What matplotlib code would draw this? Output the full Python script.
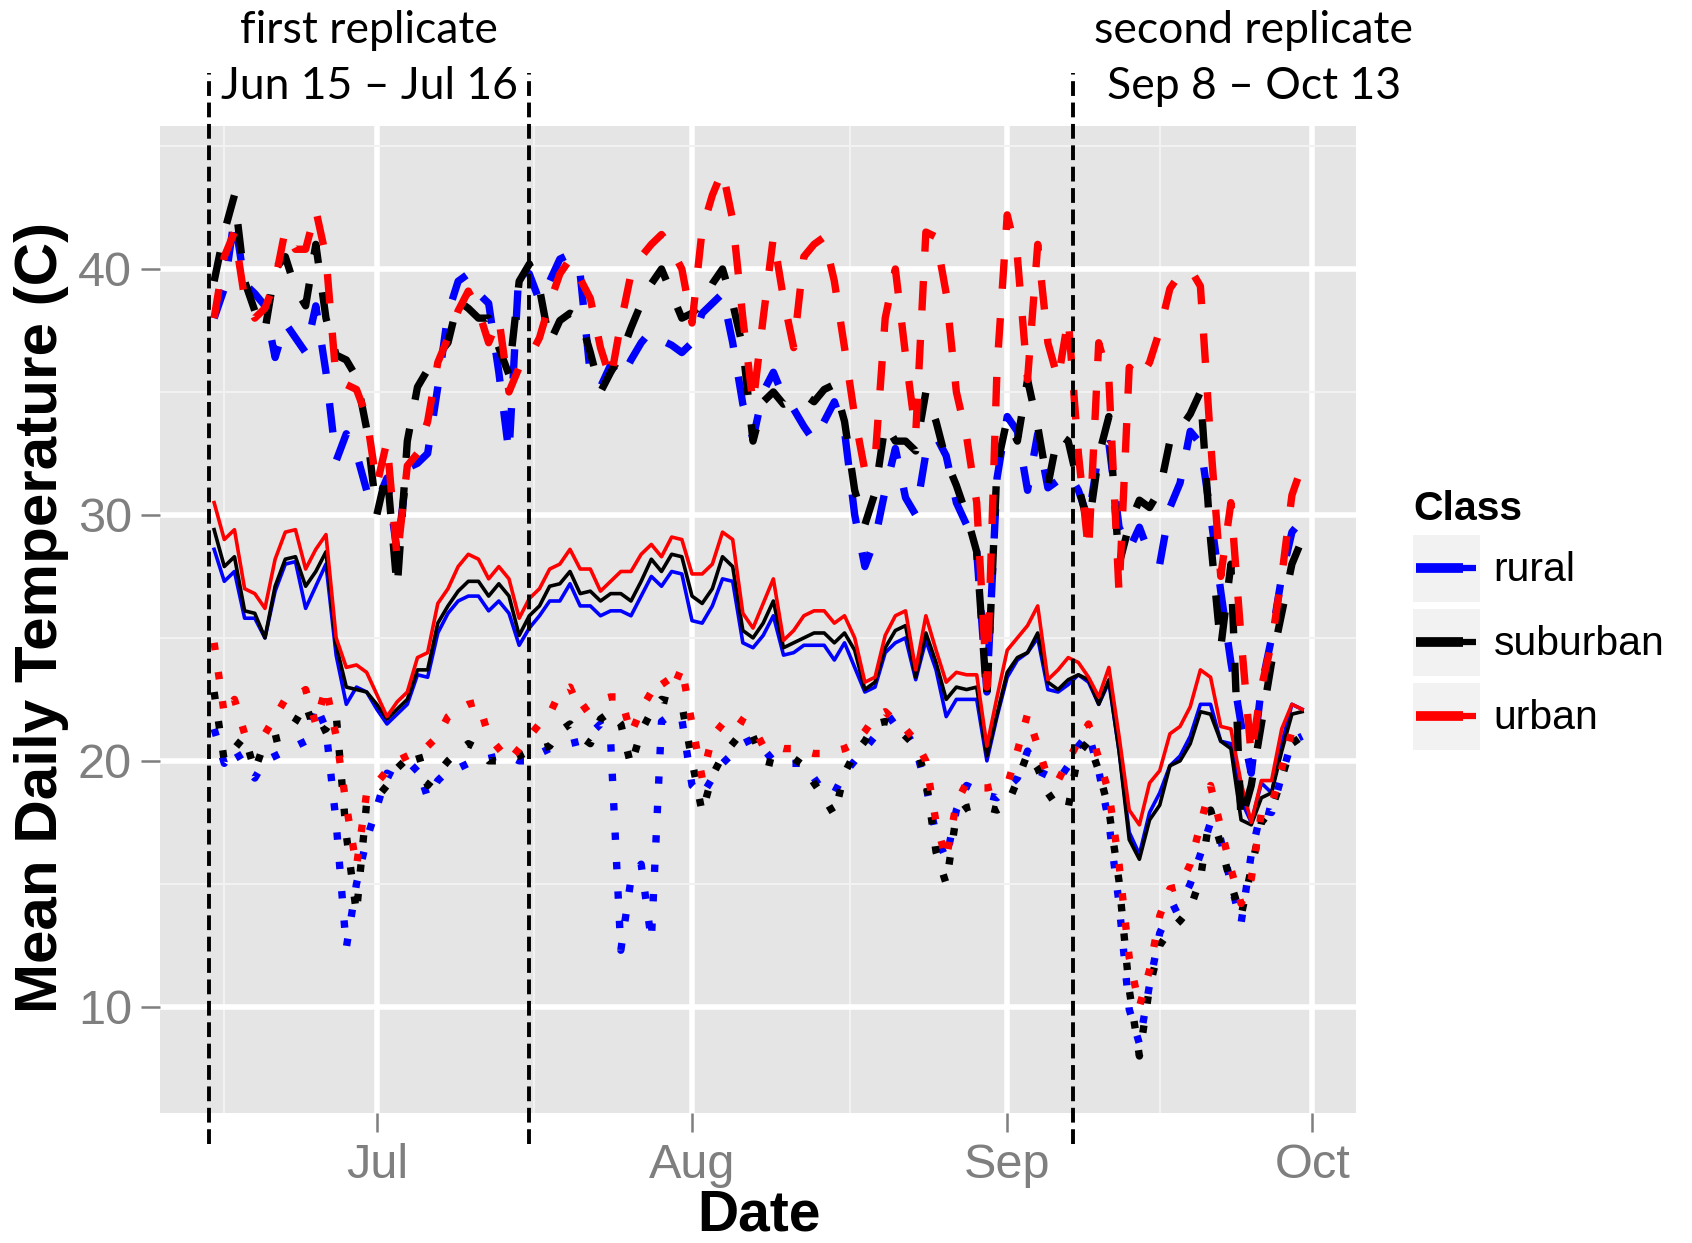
import matplotlib

matplotlib.use("Agg")
import matplotlib.dates as mdates
import matplotlib.pyplot as plt
import pandas as pd
from matplotlib.legend_handler import HandlerBase
from matplotlib.lines import Line2D
from matplotlib.patches import Rectangle
from matplotlib.ticker import FixedLocator
from matplotlib.transforms import blended_transform_factory

plt.rcParams.update(
    {
        "font.family": ["Liberation Sans", "DejaVu Sans"],
        "figure.facecolor": "white",
        "savefig.facecolor": "white",
    }
)

DATES = pd.date_range("2013-06-15", "2013-09-30", freq="D")

CLASSES = ["rural", "suburban", "urban"]
CLASS_COLORS = ["#0000FF", "#000000", "#FF0000"]

# daily maximum (dashed)
RURAL_MAX = [
    38.0, 39.2, 42.1, 39.4, 39.0, 38.5, 36.4, 37.8, 37.2, 36.6,
    38.5, 35.8, 32.2, 33.3, 32.5, 31.0, 30.5, 31.5, 28.5, 31.9,
    32.1, 32.5, 35.2, 38.2, 39.5, 39.8, 39.0, 38.6, 35.8, 32.5,
    40.1, 39.8, 38.7, 39.5, 40.4, 40.6, 39.8, 35.7, 35.2, 36.1,
    35.5, 36.3, 37.0, 37.5, 37.1, 36.9, 36.6, 37.0, 38.2, 38.6,
    39.0, 37.0, 34.5, 33.1, 35.0, 35.8, 34.8, 34.3, 33.6, 33.0,
    33.8, 34.6, 33.4, 30.0, 27.9, 29.0, 31.0, 32.7, 30.7, 30.0,
    32.5, 33.2, 32.4, 30.5, 29.6, 28.5, 22.8, 31.5, 34.0, 33.4,
    31.0, 33.3, 31.1, 31.4, 31.7, 31.0, 29.8, 32.6, 32.9, 29.5,
    28.6, 29.5, 28.4, 28.0, 30.3, 31.3, 33.4, 32.9, 30.0, 26.9,
    24.0, 21.5, 19.5, 23.0, 25.0, 27.5, 29.3, 29.8,
]
SUBURBAN_MAX = [
    39.5, 41.5, 43.0, 39.5, 38.3, 37.5, 40.0, 40.5, 39.2, 38.5,
    41.0, 38.0, 36.5, 36.3, 35.6, 33.5, 30.0, 31.8, 27.0, 33.0,
    35.2, 35.9, 36.5, 37.0, 38.7, 38.4, 38.0, 38.0, 36.8, 35.7,
    39.5, 40.2, 39.2, 37.0, 37.9, 38.2, 38.0, 36.6, 35.0, 35.8,
    36.5, 37.6, 38.6, 39.4, 40.0, 39.0, 38.0, 38.2, 38.6, 39.4,
    40.0, 38.6, 36.8, 33.0, 34.6, 35.0, 34.5, 34.7, 34.9, 34.6,
    35.1, 35.3, 33.8, 31.0, 29.6, 30.9, 33.7, 33.0, 33.0, 32.6,
    35.0, 33.8, 32.2, 31.2, 30.0, 28.5, 22.5, 32.0, 33.9, 33.0,
    35.5, 33.6, 31.2, 33.3, 33.0, 31.2, 29.5, 32.4, 34.0, 28.0,
    29.6, 30.6, 30.3, 31.0, 33.0, 33.5, 34.1, 35.0, 29.0, 24.6,
    28.0, 17.5, 19.0, 21.5, 24.0, 26.0, 28.0, 29.0,
]
URBAN_MAX = [
    38.0, 40.5, 41.5, 38.8, 38.0, 38.4, 39.5, 41.6, 40.8, 40.8,
    42.4, 40.5, 35.5, 35.3, 35.1, 34.0, 31.2, 33.0, 28.2, 32.0,
    32.5, 33.8, 36.2, 37.2, 38.3, 39.1, 38.3, 37.0, 38.0, 35.0,
    36.0, 36.4, 37.2, 38.6, 39.8, 40.4, 39.6, 38.8, 36.8, 35.5,
    37.8, 39.8, 40.5, 41.0, 41.4, 40.8, 40.0, 37.8, 41.6, 43.0,
    44.0, 42.0, 38.0, 34.5, 38.0, 41.3, 38.8, 36.8, 40.5, 41.0,
    41.3, 39.5, 36.8, 34.0, 31.8, 32.2, 38.0, 40.0, 36.5, 33.3,
    41.5, 41.3, 39.0, 35.0, 33.2, 30.5, 23.0, 36.0, 42.2, 40.5,
    35.5, 41.0, 37.0, 35.5, 38.0, 32.5, 28.5, 37.0, 35.5, 26.8,
    36.0, 35.5, 36.2, 37.5, 39.2, 39.8, 40.0, 39.3, 33.0, 27.5,
    30.5, 25.0, 20.2, 23.0, 24.8, 27.5, 30.8, 32.0,
]

# daily mean (solid)
RURAL_MEAN = [
    28.6, 27.3, 27.7, 25.8, 25.8, 25.0, 26.9, 28.0, 28.1, 26.2,
    27.1, 28.0, 24.3, 22.3, 23.0, 22.8, 22.1, 21.5, 21.9, 22.3,
    23.5, 23.4, 25.2, 26.0, 26.5, 26.7, 26.7, 26.1, 26.5, 26.0,
    24.7, 25.4, 25.9, 26.5, 26.5, 27.2, 26.3, 26.3, 25.9, 26.1,
    26.1, 25.9, 26.7, 27.5, 27.1, 27.7, 27.6, 25.7, 25.6, 26.3,
    27.4, 27.3, 24.8, 24.6, 25.1, 25.9, 24.3, 24.4, 24.7, 24.7,
    24.7, 24.1, 24.8, 23.8, 22.8, 23.0, 24.4, 24.8, 25.0, 23.3,
    24.9, 23.7, 21.8, 22.5, 22.5, 22.5, 20.0, 21.8, 23.4, 24.1,
    24.4, 25.0, 22.9, 22.8, 23.1, 23.5, 23.2, 22.3, 23.2, 20.4,
    17.1, 16.2, 17.9, 18.7, 19.8, 20.2, 21.0, 22.3, 22.3, 20.8,
    20.7, 18.4, 17.5, 19.1, 18.7, 20.7, 22.3, 22.1,
]
SUBURBAN_MEAN = [
    29.4, 27.9, 28.3, 26.1, 26.0, 25.0, 27.1, 28.2, 28.3, 27.1,
    27.7, 28.5, 24.7, 23.0, 22.9, 22.8, 22.3, 21.7, 22.1, 22.5,
    23.7, 23.7, 25.6, 26.3, 26.9, 27.3, 27.3, 26.7, 27.2, 26.7,
    25.1, 25.9, 26.3, 27.1, 27.2, 27.7, 26.8, 26.9, 26.5, 26.8,
    26.8, 26.5, 27.3, 28.2, 27.7, 28.4, 28.3, 26.7, 26.4, 27.0,
    28.3, 27.9, 25.3, 25.0, 25.6, 26.5, 24.6, 24.8, 25.0, 25.2,
    25.2, 24.8, 25.2, 24.5, 22.9, 23.2, 24.6, 25.3, 25.5, 23.4,
    25.2, 24.0, 22.5, 23.0, 22.9, 23.0, 20.2, 21.9, 23.6, 24.2,
    24.4, 25.2, 23.2, 22.9, 23.3, 23.5, 23.3, 22.3, 23.3, 20.4,
    16.8, 16.0, 17.6, 18.2, 19.8, 20.0, 20.7, 22.0, 21.9, 20.8,
    20.5, 17.6, 17.4, 18.5, 18.7, 20.4, 21.9, 22.0,
]
URBAN_MEAN = [
    30.5, 29.0, 29.4, 27.0, 26.8, 26.2, 28.2, 29.3, 29.4, 27.8,
    28.6, 29.2, 25.0, 23.8, 23.9, 23.6, 22.7, 21.8, 22.4, 22.8,
    24.2, 24.4, 26.4, 27.0, 27.9, 28.4, 28.2, 27.4, 27.9, 27.4,
    25.8, 26.6, 27.0, 27.8, 28.0, 28.6, 27.8, 27.8, 26.9, 27.3,
    27.7, 27.7, 28.4, 28.8, 28.3, 29.1, 29.0, 27.6, 27.6, 28.0,
    29.3, 29.0, 26.0, 25.4, 26.4, 27.4, 24.9, 25.3, 25.9, 26.1,
    26.1, 25.6, 25.9, 25.0, 23.2, 23.4, 25.1, 25.9, 26.1, 23.7,
    25.9, 24.5, 23.2, 23.6, 23.5, 23.5, 20.6, 22.6, 24.5, 25.0,
    25.5, 26.3, 23.3, 23.7, 24.2, 24.0, 23.4, 22.6, 23.8, 21.0,
    18.0, 17.4, 19.1, 19.6, 21.1, 21.4, 22.2, 23.7, 23.4, 21.4,
    21.3, 19.1, 17.5, 19.2, 19.2, 21.3, 22.3, 22.1,
]

# daily minimum (dotted)
RURAL_MIN = [
    21.3, 19.9, 20.5, 19.8, 19.3, 20.0, 20.2, 20.4, 20.6, 20.8,
    22.3, 21.3, 17.5, 12.4, 15.0, 16.8, 18.1, 19.5, 19.3, 19.4,
    19.8, 18.5, 19.2, 19.6, 19.7, 19.9, 20.0, 20.1, 20.2, 20.2,
    20.0, 20.0, 20.3, 20.5, 20.6, 20.7, 20.8, 21.1, 21.5, 20.8,
    12.3, 15.2, 15.8, 12.7, 21.6, 21.9, 21.7, 19.0, 18.6, 19.3,
    19.9, 20.3, 20.7, 20.9, 20.5, 20.0, 19.9, 19.9, 19.9, 19.3,
    18.7, 18.7, 19.5, 20.0, 20.5, 21.0, 21.5, 21.8, 21.2, 20.5,
    19.0, 17.0, 16.0, 18.0, 19.0, 18.8, 18.6, 18.5, 18.9, 19.3,
    20.4, 19.6, 19.4, 19.2, 19.8, 20.6, 21.1, 19.6, 17.5, 14.2,
    9.9, 8.5, 10.9, 13.0, 13.9, 14.1, 15.0, 16.2, 17.5, 16.8,
    15.0, 13.4, 16.2, 18.0, 17.9, 19.4, 20.8, 21.0,
]
SUBURBAN_MIN = [
    22.8, 20.0, 20.5, 21.0, 19.6, 20.8, 20.9, 21.0, 21.6, 22.3,
    21.1, 21.3, 21.9, 17.0, 13.8, 18.3, 18.5, 19.0, 19.7, 20.1,
    20.4, 19.0, 19.5, 20.0, 20.4, 20.7, 20.5, 20.0, 20.0, 20.0,
    20.2, 20.4, 20.5, 20.6, 21.2, 21.5, 21.0, 20.7, 21.7, 22.0,
    21.5, 19.8, 21.2, 22.0, 22.5, 22.4, 22.3, 20.0, 17.9, 19.4,
    20.2, 20.7, 21.2, 21.0, 20.0, 19.9, 20.0, 20.1, 19.8, 19.1,
    18.5, 17.8, 19.5, 20.3, 20.8, 21.5, 21.6, 21.5, 21.0, 20.6,
    19.3, 16.3, 15.0, 17.8, 18.1, 18.2, 18.1, 18.0, 18.2, 19.2,
    20.3, 19.7, 18.7, 18.1, 18.1, 20.3, 20.8, 19.6, 18.0, 15.1,
    10.7, 8.0, 10.8, 12.5, 13.1, 13.5, 14.0, 15.2, 18.0, 16.6,
    15.0, 13.7, 15.6, 17.5, 18.0, 19.3, 20.7, 21.0,
]
URBAN_MIN = [
    24.8, 21.9, 22.5, 21.1, 21.1, 21.1, 21.8, 22.5, 22.6, 22.9,
    21.5, 23.0, 21.0, 18.2, 15.7, 18.7, 19.1, 19.6, 20.0, 20.2,
    20.4, 20.6, 21.0, 21.8, 22.1, 22.3, 22.4, 21.0, 20.5, 20.0,
    20.5, 21.0, 21.5, 21.9, 22.8, 23.0, 22.0, 22.3, 22.5, 22.6,
    22.6, 21.1, 22.1, 22.8, 23.4, 22.8, 23.8, 21.5, 19.3, 21.0,
    21.5, 21.9, 21.6, 21.4, 20.6, 20.6, 20.5, 20.5, 20.4, 20.3,
    20.3, 20.4, 20.5, 20.7, 21.2, 21.8, 22.0, 21.6, 21.3, 20.8,
    20.0, 17.5, 16.0, 18.3, 19.1, 18.9, 18.9, 19.0, 19.0, 20.4,
    21.9, 20.6, 19.3, 19.2, 20.0, 20.8, 21.5, 20.1, 18.7, 15.8,
    12.0, 10.0, 11.5, 13.7, 14.8, 14.9, 15.8, 17.4, 19.0, 17.3,
    15.6, 14.2, 15.2, 17.9, 18.2, 19.7, 21.2, 20.6,
]

REPLICATE_TITLES = ["first replicate", "second replicate"]
REPLICATE_RANGES = ["Jun 15 \u2013 Jul 16", "Sep 8 \u2013 Oct 13"]
REPLICATE_START = ["2013-06-14 12:00", "2013-09-07 12:00"]
REPLICATE_END = ["2013-07-16 00:00", "2013-10-13 00:00"]

Y_TICKS = [10, 20, 30, 40]
Y_MINOR = [15, 25, 35, 45]

GREY = "#7F7F7F"


class ClassKeyHandler(HandlerBase):
    # grey key box with a thick dash followed by the thinner line, ggplot style
    def create_artists(self, legend, orig_handle, xdescent, ydescent, width, height, fontsize, trans):
        color = orig_handle.get_color()
        box = Rectangle((-xdescent, -ydescent), width, height, facecolor="#F2F2F2",
                        edgecolor="none", transform=trans)
        y = -ydescent + height / 2
        x0 = -xdescent + 0.05 * width
        x1 = -xdescent + 0.95 * width
        xm = x0 + 0.78 * (x1 - x0)
        thick = Line2D([x0, xm], [y, y], color=color, lw=7.0, solid_capstyle="butt", transform=trans)
        thin = Line2D([xm, x1], [y, y], color=color, lw=4.5, solid_capstyle="butt", transform=trans)
        return [box, thick, thin]


def to_num(stamp):
    return mdates.date2num(pd.Timestamp(stamp).to_pydatetime())


def main():
    x = mdates.date2num(DATES.to_pydatetime())
    series = {
        "mean": [RURAL_MEAN, SUBURBAN_MEAN, URBAN_MEAN],
        "max": [RURAL_MAX, SUBURBAN_MAX, URBAN_MAX],
        "min": [RURAL_MIN, SUBURBAN_MIN, URBAN_MIN],
    }
    styles = {
        "mean": dict(linestyle="-", linewidth=2.6),
        "max": dict(linestyle=(0, (4, 4)), linewidth=5.3, dash_capstyle="butt"),
        "min": dict(linestyle=(0, (1, 3)), linewidth=5.3, dash_capstyle="butt"),
    }

    fig = plt.figure(figsize=(16.92, 12.43), dpi=100)
    ax = fig.add_axes([0.0944, 0.1049, 0.7073, 0.7935])
    ax.set_facecolor("#E5E5E5")
    for spine in ax.spines.values():
        spine.set_visible(False)

    for stat in ["mean", "max", "min"]:
        for values, color in zip(series[stat], CLASS_COLORS):
            ax.plot(x, values, color=color, **styles[stat])

    ax.set_xlim(x[0] - 5.35, x[-1] + 5.35)
    ax.set_ylim(5.7, 45.8)

    months = pd.date_range("2013-06-01", "2013-10-01", freq="MS")
    mids = [a + (b - a) / 2 for a, b in zip(months[:-1], months[1:])]
    ax.xaxis.set_major_locator(mdates.MonthLocator())
    ax.xaxis.set_major_formatter(mdates.DateFormatter("%b"))
    ax.xaxis.set_minor_locator(FixedLocator([to_num(m) for m in mids]))
    ax.yaxis.set_major_locator(FixedLocator(Y_TICKS))
    ax.yaxis.set_minor_locator(FixedLocator(Y_MINOR))

    ax.set_axisbelow(True)
    ax.grid(which="minor", color="#F2F2F2", linewidth=1.5)
    ax.grid(which="major", color="white", linewidth=4.0)
    ax.tick_params(which="minor", length=0)
    ax.tick_params(which="major", length=14, width=1.8, color=GREY, labelcolor=GREY, labelsize=35)
    ax.tick_params(axis="x", pad=8)
    ax.tick_params(axis="y", pad=6)

    fig.text(0.4485, 0.0225, "Date", fontsize=41, fontweight="bold", ha="center", va="center")
    fig.text(0.0245, 0.503, "Mean Daily Temperature (C)", fontsize=43.3, fontweight="bold",
             ha="center", va="center", rotation=90)

    # replicate window markers drawn across the panel edge
    vline_tf = blended_transform_factory(ax.transData, ax.transAxes)
    for stamp in [REPLICATE_START[0], REPLICATE_END[0], REPLICATE_START[1]]:
        pos = to_num(stamp)
        ax.plot([pos, pos], [-0.032, 1.054], transform=vline_tf, clip_on=False, color="black",
                linewidth=2.8, linestyle=(0, (3.8, 1.7)), dash_capstyle="butt", zorder=5)

    text_tf = blended_transform_factory(ax.transData, fig.transFigure)
    for title, span, start, end in zip(REPLICATE_TITLES, REPLICATE_RANGES, REPLICATE_START, REPLICATE_END):
        mid = (to_num(start) + to_num(end)) / 2
        ax.text(mid, 0.9755, title, transform=text_tf, ha="center", va="center",
                fontsize=32, family=["Lato", "DejaVu Sans"])
        ax.text(mid, 0.9305, span, transform=text_tf, ha="center", va="center",
                fontsize=32, family=["Lato", "DejaVu Sans"])

    handles = [Line2D([], [], color=c) for c in CLASS_COLORS]
    leg = ax.legend(
        handles,
        CLASSES,
        title="Class",
        loc="upper left",
        bbox_to_anchor=(1413 / 1692, 1 - 490 / 1243),
        bbox_transform=fig.transFigure,
        frameon=False,
        fontsize=29.5,
        title_fontproperties={"size": 29.5, "weight": "bold"},
        alignment="left",
        handler_map={Line2D: ClassKeyHandler()},
        handlelength=1.63,
        handleheight=2.14,
        labelspacing=0.17,
        handletextpad=0.34,
        borderpad=0,
        borderaxespad=0,
    )
    leg.set_zorder(10)

    fig.savefig("out.png", dpi=100)
    plt.close(fig)


if __name__ == "__main__":
    main()
